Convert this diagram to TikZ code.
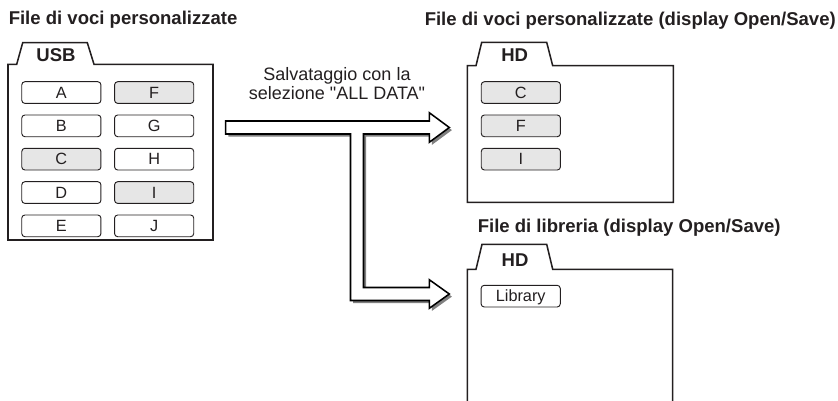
\documentclass[tikz,border=0pt]{standalone}
\usepackage{fontspec}
\setmainfont{Liberation Sans}[Ligatures=TeXOff]
\definecolor{ink}{HTML}{231F20}
\definecolor{selgray}{HTML}{E6E6E6}
\definecolor{shadowgray}{HTML}{808080}
\begin{document}
\begin{tikzpicture}[x=0.75pt,y=-0.75pt,
  folder/.style={draw=ink, line width=1.15pt, line join=miter},
  title/.style={anchor=base west, inner sep=0pt, text=ink, font=\fontsize{13.9}{16}\selectfont\bfseries},
  tablabel/.style={anchor=base, inner sep=0pt, text=ink, font=\fontsize{13.9}{16}\selectfont\bfseries},
  btn/.style={draw=ink, line width=0.7pt, rounded corners=2.4pt, minimum width=59.4pt, minimum height=16.3pt,
    inner sep=0pt, text height=8.6pt, text depth=0pt, text=ink, font=\fontsize{12.2}{14}\selectfont},
  sel/.style={btn, fill=selgray},
  note/.style={anchor=north, inner sep=0pt, align=center, text=ink, font=\fontsize{13.5}{14.3}\selectfont}
]
\useasboundingbox (0,0) rectangle (838,400);

% ---- titles
\node[title] (t1) at (8.5,24.5) {File di voci personalizzate};
\node[title] (t2) at (424.5,25) {File di voci personalizzate (display Open/Save)};
\node[title] (t3) at (477.5,232.7) {File di libreria (display Open/Save)};

% ---- USB folder
\draw[folder] (8,240) -- (8,64.3) -- (16.7,64.3) -- (22.7,42.7) -- (87.3,42.7) -- (94,64.3) -- (213,64.3) -- (213,240) -- cycle;
\node[tablabel] (usb) at (56,61.7) {USB};
\node[btn] (uA) at (61.35,92.55) {A};
\node[btn] (uB) at (61.35,125.85) {B};
\node[sel] (uC) at (61.35,159.15) {C};
\node[btn] (uD) at (61.35,192.55) {D};
\node[btn] (uE) at (61.35,225.85) {E};
\node[sel] (uF) at (154.15,92.55) {F};
\node[btn] (uG) at (154.15,125.85) {G};
\node[btn] (uH) at (154.15,159.15) {H};
\node[sel] (uI) at (154.15,192.55) {I};
\node[btn] (uJ) at (154.15,225.85) {J};

% ---- HD folder (voices)
\draw[folder] (467.3,202.3) -- (467.3,65.7) -- (476,65.7) -- (481.7,42.3) -- (546.7,42.3) -- (552.7,65.7) -- (673.3,65.7) -- (673.3,202.3) -- cycle;
\node[tablabel] (hd1) at (514.7,61.7) {HD};
\node[sel] (hC) at (520.85,92.55) {C};
\node[sel] (hF) at (520.85,125.85) {F};
\node[sel] (hI) at (520.85,159.15) {I};

% ---- HD folder (library)
\draw[folder] (467.3,402) -- (467.3,269.3) -- (476,269.3) -- (482,244.3) -- (546.7,244.3) -- (552.7,269.3) -- (672.7,269.3) -- (672.7,402);
\node[tablabel] (hd2) at (515,266) {HD};
\node[btn] (lib) at (520.7,296.15) {Library};

% ---- note
\node[note] (note) at (337,67.5) {Salvataggio con la\\selezione "ALL DATA"};

% ---- branching arrow
\coordinate (aL) at (225.7,127.5);
\coordinate (aT1) at (449.3,127.5);
\coordinate (aT2) at (449.3,294);
\def\arrowpath{(225.7,121) -- (429.3,121) -- (429.3,112.7) -- (449.3,127.5) -- (429.3,142.3) -- (429.3,134)
  -- (363.5,134) -- (363.5,287.5) -- (429.3,287.5) -- (429.3,279.7) -- (449.3,294) -- (429.3,308.3)
  -- (429.3,300.5) -- (350.5,300.5) -- (350.5,134) -- (225.7,134) -- cycle}
\fill[shadowgray, shift={(2.6,2.6)}] \arrowpath;
\draw[draw=black, fill=white, line width=1.15pt, line join=miter] \arrowpath;
\end{tikzpicture}
\end{document}
